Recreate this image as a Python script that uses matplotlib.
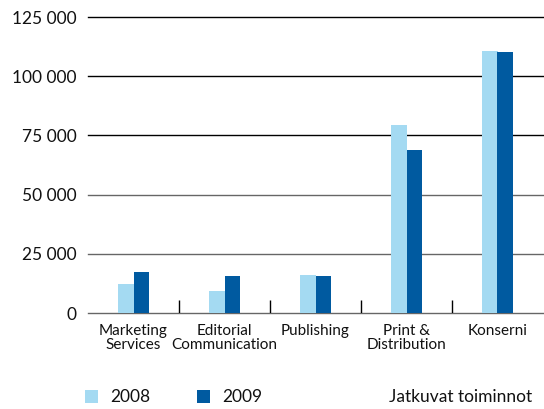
import matplotlib
matplotlib.use("Agg")
import matplotlib.pyplot as plt
from matplotlib.patches import Rectangle
from matplotlib.ticker import FuncFormatter
from matplotlib.transforms import blended_transform_factory

categories = ["Marketing\nServices", "Editorial\nCommunication", "Publishing",
              "Print &\nDistribution", "Konserni"]
years = ["2008", "2009"]
values_2008 = [12200, 9500, 16200, 79400, 110800]
values_2009 = [17400, 15700, 15700, 69000, 110400]
yticks = [0, 25000, 50000, 75000, 100000, 125000]
footer = "Jatkuvat toiminnot"

C_LIGHT = "#a4daf2"
C_DARK = "#005aa0"
FONT = "Lato"

W, H = 544, 409
fig = plt.figure(figsize=(W / 100, H / 100), dpi=100)
ax = fig.add_axes([88 / W, 1 - 313 / H, 455 / W, 296 / H])

x = range(len(categories))
bw = 0.165
ax.bar([i - bw / 2 for i in x], values_2008, bw, color=C_LIGHT, zorder=3)
ax.bar([i + bw / 2 for i in x], values_2009, bw, color=C_DARK, zorder=3)

ax.set_xlim(-0.5, len(categories) - 0.5)
ax.set_ylim(0, 125000)

# gridlines: lower ones greyish, upper ones black
for v in yticks:
    col = "#666666" if v <= 50000 else "#000000"
    ax.axhline(v, color=col, lw=1.0, zorder=1, clip_on=False)

# small separators between groups
ax.vlines([i + 0.5 for i in range(len(categories) - 1)], 0, 5500,
          color="#000000", lw=1.0, zorder=2)

for s in ax.spines.values():
    s.set_visible(False)
ax.set_xticks([])
ax.set_yticks(yticks)
ax.yaxis.set_major_formatter(FuncFormatter(lambda v, p: f"{int(v):,}".replace(",", " ")))
ax.tick_params(axis="y", length=0, pad=8, labelsize=12.5)
for t in ax.get_yticklabels():
    t.set_fontfamily(FONT)
    t.set_color("#111111")

lab_tr = blended_transform_factory(ax.transData, fig.transFigure)
for i, lab in enumerate(categories):
    ax.text(i, 1 - 324 / H, lab, transform=lab_tr,
            ha="center", va="top", fontsize=11, fontfamily=FONT,
            linespacing=1.0, color="#111111")

# legend row
for (lx, tx), yr, col in zip([(85, 110), (197, 222)], years, [C_LIGHT, C_DARK]):
    fig.add_artist(Rectangle((lx / W, 1 - 402.5 / H), 13 / W, 13 / H,
                             transform=fig.transFigure, color=col, lw=0))
    fig.text(tx / W, 1 - 396.5 / H, yr, ha="left", va="center",
             fontsize=12.5, fontfamily=FONT, color="#111111")
fig.text(389 / W, 1 - 396.5 / H, footer, ha="left", va="center",
         fontsize=12.5, fontfamily=FONT, color="#111111")

fig.savefig("out.png", dpi=100)
